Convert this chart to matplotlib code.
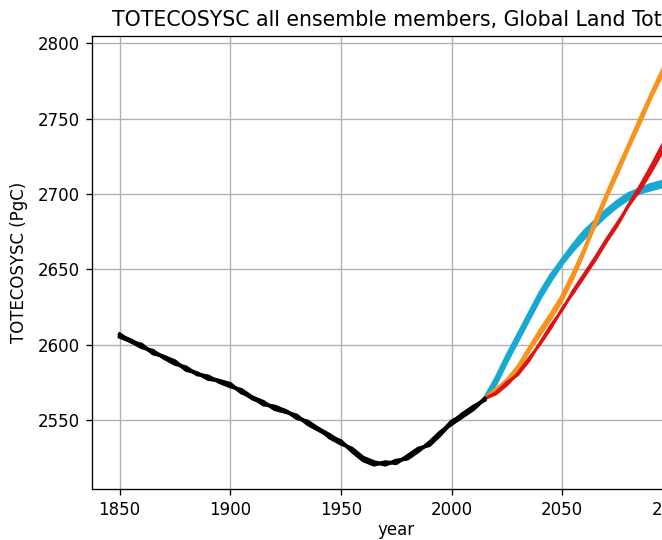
import numpy as np
import matplotlib.pyplot as plt

plt.switch_backend('Agg')

# --- data (PgC) ---
hist_years = list(range(1850, 2016, 5))
hist_a = [2606, 2603, 2599, 2595, 2592, 2588, 2584, 2581, 2578, 2576, 2573, 2569,
          2564, 2561, 2558, 2556, 2552, 2548, 2544, 2540, 2535, 2530, 2524, 2521,
          2521, 2522, 2525, 2530, 2534, 2541, 2549, 2553, 2558, 2564]
hist_b = [2605, 2602, 2598, 2596, 2591, 2587, 2585, 2580, 2579, 2575, 2572, 2570,
          2565, 2562, 2557, 2555, 2553, 2547, 2543, 2539, 2536, 2529, 2523, 2520,
          2522, 2521, 2526, 2531, 2533, 2540, 2548, 2554, 2559, 2563]
hist_c = [2607, 2602, 2600, 2594, 2592, 2589, 2583, 2581, 2577, 2576, 2574, 2568,
          2565, 2560, 2559, 2556, 2551, 2549, 2544, 2538, 2534, 2531, 2525, 2522,
          2520, 2523, 2524, 2529, 2535, 2542, 2547, 2552, 2557, 2564]

scen_years = list(range(2015, 2101, 5))
blue_a = [2564, 2575, 2590, 2605, 2619, 2632, 2644, 2655, 2664, 2673, 2680, 2688,
          2694, 2699, 2702, 2704, 2706, 2708]
blue_b = [2564, 2577, 2592, 2606, 2620, 2634, 2646, 2656, 2666, 2675, 2682, 2689,
          2695, 2700, 2703, 2706, 2708, 2709]
blue_c = [2564, 2574, 2589, 2603, 2617, 2631, 2643, 2654, 2663, 2671, 2679, 2686,
          2692, 2697, 2701, 2703, 2705, 2706]
orange_a = [2564, 2569, 2575, 2584, 2596, 2607, 2618, 2630, 2645, 2662, 2682, 2699,
            2716, 2732, 2749, 2765, 2781, 2796]
orange_b = [2564, 2570, 2576, 2585, 2597, 2609, 2620, 2632, 2647, 2663, 2680, 2698,
            2714, 2731, 2747, 2764, 2779, 2794]
red_a = [2564, 2568, 2574, 2580, 2590, 2601, 2612, 2623, 2635, 2646, 2657, 2669,
         2680, 2693, 2705, 2718, 2732, 2745]
red_b = [2564, 2567, 2573, 2581, 2591, 2600, 2611, 2624, 2634, 2645, 2656, 2668,
         2679, 2692, 2702, 2714, 2727, 2739]
red_c = [2564, 2568, 2575, 2580, 2589, 2601, 2613, 2623, 2636, 2647, 2658, 2670,
         2681, 2692, 2704, 2716, 2730, 2742]

fig = plt.figure(figsize=(662 / 120, 540 / 120), dpi=120)
# axes run off the right edge, like the cropped original
ax = fig.add_axes([0.139, 0.0944, 0.919, 0.839])

for s in [blue_a, blue_b, blue_c]:
    ax.plot(scen_years, s, color='#17a9d1', linewidth=2.4)
for s in [orange_a, orange_b]:
    ax.plot(scen_years, s, color='#f7941e', linewidth=2.4)
for s in [red_a, red_b, red_c]:
    ax.plot(scen_years, s, color='#dd1416', linewidth=1.6)
for s in [hist_a, hist_b, hist_c]:
    ax.plot(hist_years, s, color='black', linewidth=2.1)

ax.set_xlim(1837.5, 2112.5)
ax.set_ylim(2504, 2805)
ax.set_xticks([1850, 1900, 1950, 2000, 2050, 2100])
ax.set_yticks([2550, 2600, 2650, 2700, 2750, 2800])
ax.grid(True)
ax.set_axisbelow(True)
ax.set_xlabel('year', labelpad=1.5)
ax.set_ylabel('TOTECOSYSC (PgC)', labelpad=6)
ax.set_title('TOTECOSYSC all ensemble members, Global Land Total', fontsize=12.3)

plt.savefig('out.png', dpi=120)
plt.close()
